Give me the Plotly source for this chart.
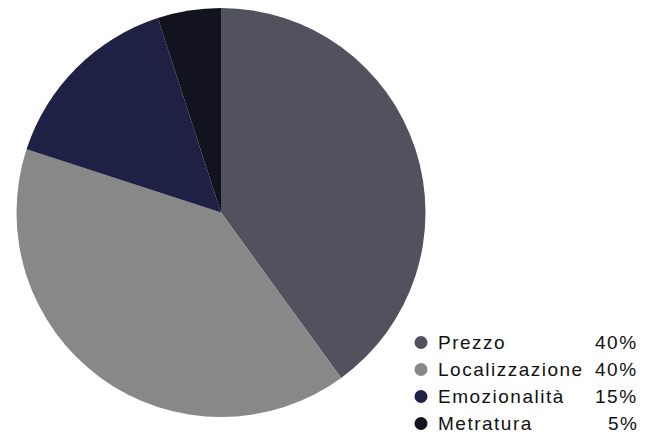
import plotly.graph_objects as go

labels = ["Prezzo", "Localizzazione", "Emozionalità", "Metratura"]
values = [40, 40, 15, 5]
colors = ["#52525f", "#878887", "#1e2044", "#12131f"]

W, H = 654, 443
OFF = 8  # browser body margin


def px(x):
    return (x - OFF) / W


def py(y):
    return 1 - (y - OFF) / H


fig = go.Figure(go.Pie(
    labels=labels, values=values, sort=False, direction="clockwise", rotation=0,
    marker=dict(colors=colors, line=dict(width=0)),
    textinfo="none", hoverinfo="label+percent", showlegend=False,
    domain=dict(x=[px(16.5), px(425.5)], y=[1 - 409 / H, 1]),
))

FONT = dict(family="Liberation Sans, Arial, sans-serif", size=19, color="#111111")
LS = "letter-spacing:1.5px"
row0, step = 342.5, 27.0
for i, (lab, v, c) in enumerate(zip(labels, values, colors)):
    yc = row0 + step * i
    fig.add_shape(
        type="circle", xref="paper", yref="paper",
        xsizemode="pixel", ysizemode="pixel",
        xanchor=px(421), yanchor=py(yc),
        x0=-6.5, x1=6.5, y0=-6.5, y1=6.5,
        fillcolor=c, line=dict(width=0),
    )
    fig.add_annotation(
        x=px(436), y=py(yc), xref="paper", yref="paper",
        xanchor="left", yanchor="middle", showarrow=False,
        text=f"<span style='{LS}'>{lab}</span>", font=FONT,
    )
    fig.add_annotation(
        x=px(640), y=py(yc), xref="paper", yref="paper",
        xanchor="right", yanchor="middle", showarrow=False,
        text=f"<span style='{LS}'>{v}%</span>", font=FONT,
    )

fig.update_layout(
    width=W, height=H, margin=dict(l=0, r=0, t=0, b=0),
    paper_bgcolor="white", plot_bgcolor="white", showlegend=False,
)
fig.write_html("out.html")
